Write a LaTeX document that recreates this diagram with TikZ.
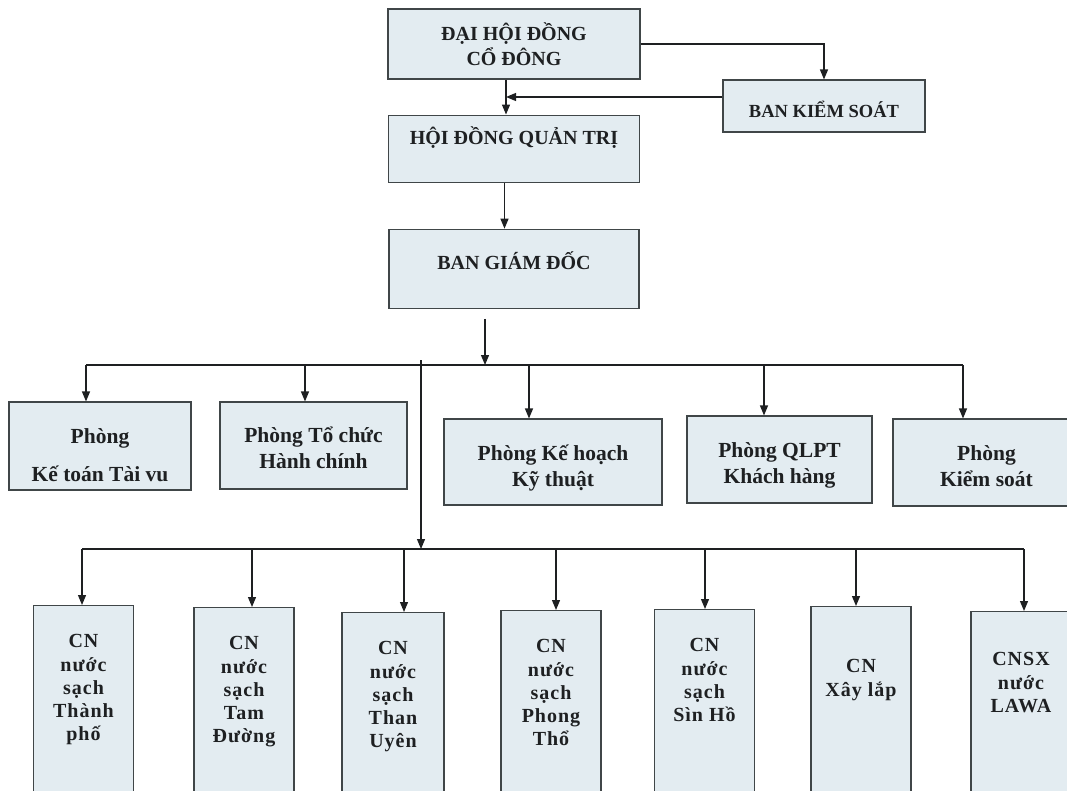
\documentclass[tikz,border=0pt]{standalone}
\usepackage{fontspec}
\setmainfont{Liberation Serif}
\usetikzlibrary{arrows.meta,positioning,calc}
\definecolor{boxfill}{RGB}{227,236,241}
\definecolor{boxline}{RGB}{64,70,72}
\definecolor{ink}{RGB}{30,32,34}

\begin{document}
\begin{tikzpicture}[x=1pt, y=-1pt, >={Triangle[length=10pt,width=8pt]}, line width=1.2pt, color=ink,
  box/.style={draw=boxline, fill=boxfill, line width=1.1pt, align=center, inner sep=2pt},
  head/.style={box, font=\fontsize{20}{25}\selectfont\bfseries},
  dept/.style={box, font=\fontsize{21.5}{26}\selectfont\bfseries, text height=54pt, text depth=6pt},
  branch/.style={box, anchor=north, minimum width=100pt, inner ysep=29pt, text depth=220pt,
    font=\fontsize{20}{23.3}\selectfont\bfseries\addfontfeatures{LetterSpace=5}}]
  \useasboundingbox (0,0) rectangle (1067,791);

  % boards
  \node[head, minimum width=252pt, minimum height=70pt] (dhdcd) at (514,44) {ĐẠI HỘI ĐỒNG\\CỔ ĐÔNG};
  \node[head, minimum width=251pt, minimum height=67pt, text height=16pt, text depth=25pt] (hdqt) [below=35pt of dhdcd] {HỘI ĐỒNG QUẢN TRỊ};
  \node[head, minimum width=250pt, minimum height=79pt, text height=16pt, text depth=15pt] (bgd) [below=46pt of hdqt] {BAN GIÁM ĐỐC};
  \node[head, minimum width=202pt, minimum height=52pt, text height=24pt, text depth=0pt,
    font=\fontsize{18.5}{22}\selectfont\bfseries] (bks) at (824,106) {BAN KIỂM SOÁT};

  % links between the boards
  \coordinate (j1) at ([xshift=-8pt]dhdcd.south);
  \coordinate (j2) at ([yshift=9pt]bks.west);
  \coordinate (j3) at ([xshift=-9.5pt]hdqt.south);
  \draw[->] (dhdcd.east) -| (bks.north);
  \draw[->] (j1) -- (j1 |- hdqt.north);
  \draw[->] (j2) -- (j2 -| j1);
  \draw[->] (j3) -- (j3 |- bgd.north);

  % departments
  \node[dept, minimum width=182pt, minimum height=88pt, text height=76pt] (ketoan) at (100,446) {Phòng\\[12pt]Kế toán Tài vu};
  \node[dept, minimum width=187pt, minimum height=87pt, text height=51pt] (tochuc) at (313.5,445.5) {Phòng Tổ chức\\Hành chính};
  \node[dept, minimum width=218pt, minimum height=86pt] (kehoach) at (553,462) {Phòng Kế hoạch\\Kỹ thuật};
  \node[dept, minimum width=185pt, minimum height=87pt] (qlpt) at (779.5,459.5) {Phòng QLPT\\Khách hàng};
  \node[dept, minimum width=187pt, minimum height=87pt] (kiemsoat) at (986.5,462.5) {Phòng\\Kiểm soát};

  % bus to the departments
  \coordinate (t1) at (86,365);
  \coordinate (t2) at (305,365);
  \coordinate (t3) at (529,365);
  \coordinate (t4) at (764,365);
  \coordinate (t5) at (963,365);
  \coordinate (j4) at ([xshift=-29pt,yshift=-10pt]bgd.south);
  \draw (t1) -- (t5);
  \draw[->] (j4) -- (j4 |- t1);
  \path[->]
    (t1) edge (t1 |- ketoan.north)
    (t2) edge (t2 |- tochuc.north)
    (t3) edge (t3 |- kehoach.north)
    (t4) edge (t4 |- qlpt.north)
    (t5) edge (t5 |- kiemsoat.north);

  % branches
  \node[branch] (thanhpho) at (83.5,605) {CN\\nước\\sạch\\Thành\\phố};
  \node[branch] (tamduong) at (244,607) {CN\\nước\\sạch\\Tam\\Đường};
  \node[branch, minimum width=102pt] (thanuyen) at (393,612) {CN\\nước\\sạch\\Than\\Uyên};
  \node[branch] (phongtho) at (551,610) {CN\\nước\\sạch\\Phong\\Thổ};
  \node[branch] (sinho) at (704.5,609) {CN\\nước\\sạch\\Sìn Hồ};
  \node[branch, inner ysep=53pt] (xaylap) at (861,606) {CN\\Xây lắp};
  \node[branch, inner ysep=41pt] (lawa) at (1021,611) {CNSX\\nước\\LAWA};

  % bus to the branches
  \coordinate (j5) at (421,360);
  \coordinate (s1) at (82,549);
  \coordinate (s2) at (252,549);
  \coordinate (s3) at (404,549);
  \coordinate (s4) at (556,549);
  \coordinate (s5) at (705,549);
  \coordinate (s6) at (856,549);
  \coordinate (s7) at (1024,549);
  \draw (s1) -- (s7);
  \draw[->] (j5) -- (j5 |- s1);
  \path[->]
    (s1) edge (s1 |- thanhpho.north)
    (s2) edge (s2 |- tamduong.north)
    (s3) edge (s3 |- thanuyen.north)
    (s4) edge (s4 |- phongtho.north)
    (s5) edge (s5 |- sinho.north)
    (s6) edge (s6 |- xaylap.north)
    (s7) edge (s7 |- lawa.north);
\end{tikzpicture}
\end{document}
